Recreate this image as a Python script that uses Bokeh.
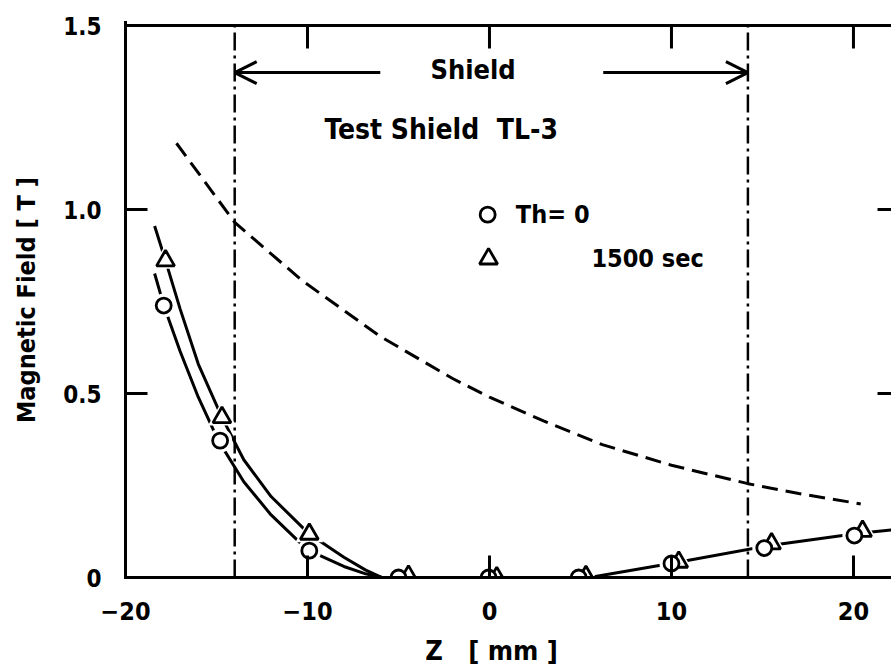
from bokeh.plotting import figure
from bokeh.models import (Range1d, FixedTicker, CustomJSTickFormatter,
                          Arrow, OpenHead, Label)
from bokeh.embed import file_html
from bokeh.resources import INLINE

# ---------------- data ----------------
x_ticks = [-20, -10, 0, 10, 20]
y_ticks = [0, 0.5, 1.0, 1.5]

# measured points, Th = 0 (circles)
z_th0 = [-17.9, -14.8, -9.9, -5.0, -0.05, 4.9, 10.0, 15.1, 20.05]
b_th0 = [0.739, 0.372, 0.073, 0.0, 0.0, 0.0, 0.038, 0.080, 0.114]
# measured points, 1500 sec (triangles)
z_1500 = [-17.8, -14.7, -9.9, -4.45, 0.4, 5.3, 10.4, 15.5, 20.5]
b_1500 = [0.861, 0.435, 0.118, 0.004, 0.0, 0.003, 0.042, 0.092, 0.126]

# fitted curve through Th = 0 points
curve_th0_z = [-18.4, -17.9, -17.0, -16.0, -14.9, -13.5, -12.0, -10.0, -8.0, -6.8, -5.9]
curve_th0_b = [0.826, 0.74, 0.615, 0.49, 0.372, 0.26, 0.17, 0.075, 0.03, 0.01, 0.0]
# fitted curve through 1500 sec points
curve_1500_z = [-18.4, -17.8, -17.0, -16.0, -14.7, -13.5, -12.0, -9.9, -8.0, -6.8, -5.9]
curve_1500_b = [0.955, 0.861, 0.73, 0.58, 0.435, 0.32, 0.22, 0.118, 0.055, 0.02, 0.0]
# common curve on the right side
curve_right_z = [-5.9, 5.5, 10.2, 15.3, 20.3, 22.2]
curve_right_b = [0.0, 0.0, 0.04, 0.086, 0.12, 0.13]

# dashed reference curve
dash_z = [-17.2, -14.0, -10.3, -6.0, -2.0, 0.0, 3.0, 6.2, 10.0, 14.2, 17.0, 20.4]
dash_b = [1.18, 0.965, 0.807, 0.655, 0.54, 0.49, 0.425, 0.361, 0.305, 0.255, 0.228, 0.20]

shield_edges = [-14.0, 14.2]

shield_text = "Shield"
title_text = "Test Shield\u00a0\u00a0TL-3"
legend_labels = ["Th= 0", "1500 sec"]
x_label = "Z\u00a0\u00a0\u00a0[\u00a0mm\u00a0]" + "\u00a0" * 4
y_label = "Magnetic Field [\u00a0T\u00a0]"

# ---------------- figure ----------------
FONT = "DejaVu Sans Condensed"
X0, X1 = -20, 22.09
Y0, Y1 = 0, 1.5
PX_Y = 368.0            # pixels per tesla
PX_X = 18.2             # pixels per mm
top_pad = 3 / PX_Y      # room so the top frame line is fully visible

p = figure(width=891, height=668, output_backend="svg", toolbar_location=None,
           x_range=Range1d(X0, X1), y_range=Range1d(Y0, Y1 + top_pad),
           min_border_left=125, min_border_right=0, min_border_top=22,
           min_border_bottom=91, x_axis_label=x_label, y_axis_label=y_label)
p.outline_line_color = None
p.grid.visible = False
p.background_fill_color = "white"
p.border_fill_color = "white"


def style_axis(ax, ticks, tick_len):
    ax.ticker = FixedTicker(ticks=ticks)
    ax.major_tick_in = tick_len
    ax.major_tick_out = 0
    ax.minor_tick_in = 0
    ax.minor_tick_out = 0
    ax.major_tick_line_width = 3
    ax.major_tick_line_color = "black"
    ax.axis_line_width = 3
    ax.axis_line_color = "black"
    ax.axis_line_cap = "square"
    ax.major_label_text_font = FONT
    ax.major_label_text_font_style = "bold"
    ax.major_label_text_color = "black"
    ax.axis_label_text_font = FONT
    ax.axis_label_text_font_style = "bold"
    ax.axis_label_text_color = "black"


xa = p.xaxis[0]
style_axis(xa, x_ticks, 22)
xa.major_label_text_font_size = "25px"
xa.major_label_standoff = 24
xa.axis_label_text_font_size = "27px"
xa.axis_label_standoff = 12

ya = p.yaxis[0]
style_axis(ya, y_ticks, 22)
ya.major_label_text_font_size = "24px"
ya.major_label_standoff = 24
ya.axis_label_text_font_size = "25px"
ya.axis_label_standoff = 19
ya.formatter = CustomJSTickFormatter(code="return tick == 0 ? '0' : tick.toFixed(1);")

# top frame line with inward ticks, right-side inward ticks (frame edge lies past the page)
p.line([X0, X1], [Y1, Y1], line_color="black", line_width=3)
top_len = 23 / PX_Y
p.segment(x0=x_ticks, x1=x_ticks, y0=[Y1] * len(x_ticks),
          y1=[Y1 - top_len] * len(x_ticks), line_color="black", line_width=3)
right_len = 14 / PX_X
p.segment(x0=[X1 - right_len] * len(y_ticks), x1=[X1] * len(y_ticks),
          y0=y_ticks, y1=y_ticks, line_color="black", line_width=3)

# shield boundaries
for e in shield_edges:
    p.segment(x0=[e], x1=[e], y0=[Y0], y1=[Y1], line_color="black",
              line_width=2.5, line_dash="18 5 3 5")

# arrows
arrow_y = 1.372
p.add_layout(Arrow(end=OpenHead(size=22, line_width=3, line_color="black"),
                   x_start=-6.0, y_start=arrow_y, x_end=shield_edges[0], y_end=arrow_y,
                   line_width=3, line_color="black"))
p.add_layout(Arrow(end=OpenHead(size=22, line_width=3, line_color="black"),
                   x_start=6.25, y_start=arrow_y, x_end=shield_edges[1], y_end=arrow_y,
                   line_width=3, line_color="black"))

# dashed curve
p.line(dash_z, dash_b, line_color="black", line_width=3, line_dash="16 8")

# solid curves
for xs, ys in [(curve_th0_z, curve_th0_b), (curve_1500_z, curve_1500_b),
               (curve_right_z, curve_right_b)]:
    p.line(xs, ys, line_color="black", line_width=3, line_join="round")

# halos to create gaps in the curves around the markers
p.scatter(z_1500, b_1500, marker="triangle", size=28, fill_color="white", line_color=None)
p.scatter(z_th0, b_th0, marker="circle", size=24, fill_color="white", line_color=None)

# markers
p.scatter(z_1500, b_1500, marker="triangle", size=18, fill_color="white",
          line_color="black", line_width=2.8)
p.scatter(z_th0, b_th0, marker="circle", size=15, fill_color="white",
          line_color="black", line_width=2.8)

# legend (drawn by hand, as in the original)
p.scatter([-0.1], [0.986], marker="circle", size=15, fill_color="white",
          line_color="black", line_width=2.8)
p.scatter([-0.05], [0.866], marker="triangle", size=18, fill_color="white",
          line_color="black", line_width=2.8)

p.add_layout(Label(x=1.45, y=0.986, text=legend_labels[0], text_font=FONT,
                   text_font_style="bold", text_font_size="25px",
                   text_baseline="middle", text_align="left", text_color="black"))
p.add_layout(Label(x=5.6, y=0.866, text=legend_labels[1], text_font=FONT,
                   text_font_style="bold", text_font_size="25px",
                   text_baseline="middle", text_align="left", text_color="black"))

# annotations
p.add_layout(Label(x=-0.9, y=1.38, text=shield_text, text_font=FONT,
                   text_font_style="bold", text_font_size="27px",
                   text_baseline="middle", text_align="center", text_color="black"))
p.add_layout(Label(x=-9.07, y=1.217, text=title_text, text_font=FONT,
                   text_font_style="bold", text_font_size="28px",
                   text_baseline="middle", text_align="left", text_color="black"))

open("out.html", "w").write(file_html(p, INLINE))
